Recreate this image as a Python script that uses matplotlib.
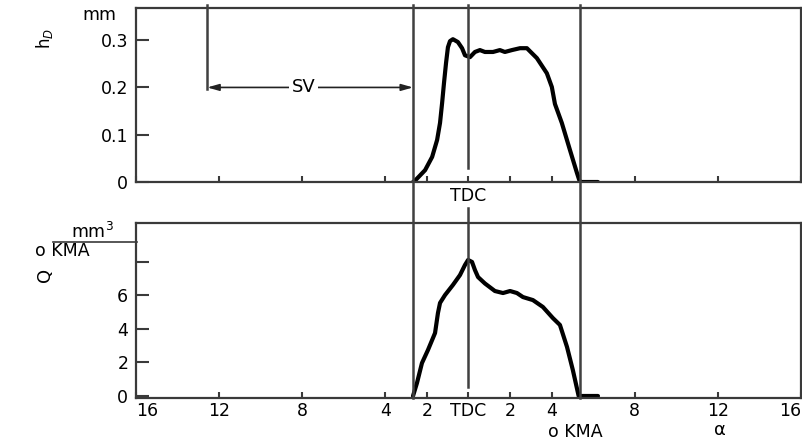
#!/usr/bin/env python
# needle lift and injection rate over crank angle
import numpy as np
import matplotlib.pyplot as plt
from matplotlib.lines import Line2D
from matplotlib.transforms import blended_transform_factory

plt.rcParams['font.family'] = ['DejaVu Sans']

# needle lift h_D (mm) over crank angle (deg, TDC = 0)
lift_angle = [-2.67, -2.57, -2.09, -1.75, -1.51, -1.37, -1.27, -1.18, -1.08, -0.99,
              -0.89, -0.75, -0.51, -0.31, -0.17, 0.07, 0.31, 0.55, 0.79, 1.18,
              1.51, 1.75, 2.09, 2.48, 2.81, 3.29, 3.77, 4.01, 4.16, 4.49,
              4.88, 5.22, 5.36, 6.23]
lift_mm = [0.0, 0.003, 0.025, 0.053, 0.089, 0.125, 0.167, 0.209, 0.252, 0.285,
           0.298, 0.302, 0.296, 0.283, 0.268, 0.264, 0.275, 0.279, 0.275, 0.275,
           0.279, 0.275, 0.279, 0.283, 0.283, 0.262, 0.230, 0.201, 0.165, 0.125,
           0.068, 0.019, 0.0, 0.0]

# injection rate Q (mm3 / deg KMA)
rate_angle = [-2.67, -2.48, -2.24, -1.95, -1.61, -1.47, -1.37, -1.13, -0.75, -0.41,
              -0.17, -0.02, 0.17, 0.31, 0.46, 0.79, 1.27, 1.66, 2.0, 2.33,
              2.62, 3.10, 3.58, 4.06, 4.40, 4.74, 5.02, 5.30, 6.23]
rate_q = [0.0, 0.77, 1.96, 2.74, 3.75, 4.94, 5.54, 6.01, 6.61, 7.20,
          7.80, 8.10, 7.98, 7.50, 7.08, 6.70, 6.25, 6.13, 6.25, 6.13,
          5.89, 5.71, 5.30, 4.64, 4.23, 2.92, 1.55, 0.0, 0.0]

x_ticks = [-16, -12, -8, -4, -2, 0, 2, 4, 8, 12, 16]
x_labels = ['16', '12', '8', '4', '2', 'TDC', '2', '4', '8', '12', '16']
lift_ticks = [0, 0.1, 0.2, 0.3]
lift_labels = ['0', '0.1', '0.2', '0.3']
rate_ticks = [0, 2, 4, 6, 8]
rate_labels = ['0', '2', '4', '6', '']

sv_start = -12.57
inj_start = -2.67
inj_end = 5.36

W, H = 803, 445
fig = plt.figure(figsize=(W / 100, H / 100), dpi=100)


def fy(py):
    # pixel row -> figure fraction
    return 1 - py / H


left = 136 / W
width = (801 - 136) / W
ax1 = fig.add_axes([left, fy(182), width, (182 - 8) / H])
ax2 = fig.add_axes([left, fy(398), width, (398 - 223) / H])

spine_col = '#3a3a3a'
for ax in (ax1, ax2):
    for s in ax.spines.values():
        s.set_linewidth(1.6)
        s.set_color(spine_col)
    ax.set_xlim(-16, 16)
    ax.set_xticks(x_ticks)
    ax.tick_params(axis='x', direction='in', length=4.5, width=1.5, color=spine_col,
                   labelsize=12.5, pad=3)
    ax.tick_params(axis='y', direction='in', length=9, width=1.5, color=spine_col,
                   labelsize=12.5, pad=5.5)

ax1.plot(lift_angle, lift_mm, color='black', lw=3, solid_joinstyle='round',
         solid_capstyle='round')
ax1.set_ylim(0, 0.368)
ax1.set_yticks(lift_ticks)
ax1.set_yticklabels(lift_labels)
ax1.set_xticklabels([])

ax2.plot(rate_angle, rate_q, color='black', lw=3, solid_joinstyle='round',
         solid_capstyle='round')
ax2.set_ylim(-0.12, 10.3)
ax2.set_yticks(rate_ticks)
ax2.set_yticklabels(rate_labels)
ax2.set_xticklabels(x_labels)
tl = ax2.get_xticklabels()
tl[0].set_horizontalalignment('left')
tl[-1].set_horizontalalignment('right')

# vertical marker lines across both panels
trans = blended_transform_factory(ax1.transData, fig.transFigure)
line_col = '#404040'
for xv in (inj_start, inj_end):
    fig.add_artist(Line2D([xv, xv], [fy(5), fy(398)], transform=trans,
                          color=line_col, lw=1.8))
fig.add_artist(Line2D([0, 0], [fy(5), fy(168)], transform=trans, color=line_col, lw=1.8))
fig.add_artist(Line2D([0, 0], [fy(208), fy(387)], transform=trans, color=line_col, lw=1.8))
fig.add_artist(Line2D([sv_start, sv_start], [fy(5), fy(89)], transform=trans,
                      color=line_col, lw=1.8))

# SV span arrow
ax1.annotate('', xy=(sv_start, 0.2), xytext=(inj_start, 0.2),
             arrowprops=dict(arrowstyle='<|-|>,head_length=0.7,head_width=0.2',
                             color='#222222', lw=1.2, shrinkA=0, shrinkB=0))
ax1.text((sv_start + inj_start) / 2 - 0.3, 0.2, 'SV', ha='center', va='center',
         fontsize=13, bbox=dict(facecolor='white', edgecolor='none', pad=2))

fig.text(468.5 / W, fy(196), 'TDC', ha='center', va='center', fontsize=12.5)

# axis labels and units
fig.text(99 / W, fy(15), 'mm', ha='center', va='center', fontsize=12.5)
fig.text(45 / W, fy(38), 'h$_D$', ha='center', va='center', fontsize=12, rotation=90)
fig.text(92 / W, fy(232), 'mm$^3$', ha='center', va='center', fontsize=12.5)
fig.add_artist(Line2D([53 / W, 137 / W], [fy(242), fy(242)], color=spine_col, lw=1.2))
fig.text(62 / W, fy(251), 'o KMA', ha='center', va='center', fontsize=12.5)
fig.text(45 / W, fy(275), 'Q', ha='center', va='center', fontsize=13, rotation=90)
fig.text(575 / W, fy(432), 'o KMA', ha='center', va='center', fontsize=12.5)
fig.text(720 / W, fy(430), 'α', ha='center', va='center', fontsize=13)

fig.savefig('out.png', dpi=100)
